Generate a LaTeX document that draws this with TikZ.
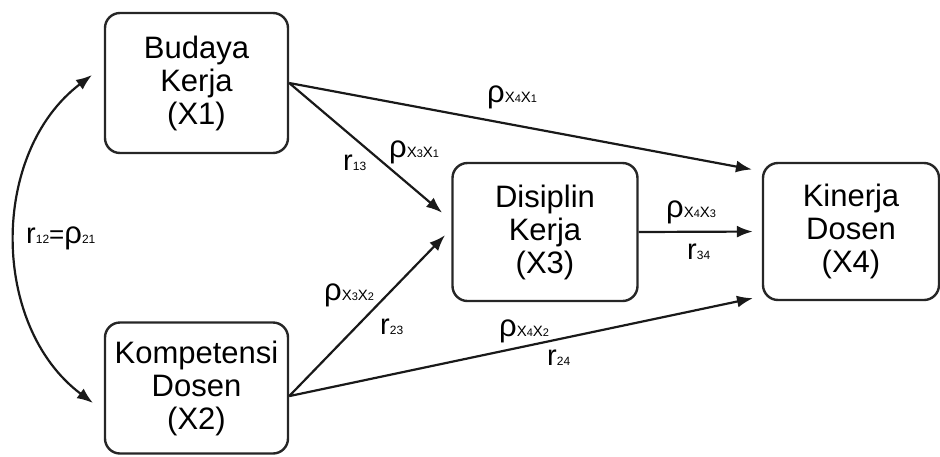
\documentclass[tikz,border=0pt]{standalone}
\usepackage{fontspec}
\setmainfont{Liberation Sans}
\usetikzlibrary{arrows.meta}

% path coefficient rho_{X#1 X#2} and correlation r_{#1}
\newcommand\pth[2]{%
    {\fontsize{31}{31}\selectfont ρ}%
    {\fontsize{15}{15}\selectfont X{\fontsize{11}{11}\selectfont #1}X{\fontsize{11}{11}\selectfont #2}}}
\newcommand\rcor[1]{%
    {\fontsize{29}{29}\selectfont r}{\fontsize{12}{12}\selectfont #1}}
\newcommand\rhosmall[1]{%
    {\fontsize{31}{31}\selectfont ρ}{\fontsize{12}{12}\selectfont #1}}

\tikzset{
    varbox/.style={draw=black!85,line width=2.4pt,rounded corners=15pt,align=center,
        inner sep=0pt,font=\fontsize{31}{33}\selectfont},
    link/.style={draw=black!90,line width=2.2pt,-{Latex[length=16pt,width=12pt]}},
    corlink/.style={draw=black!90,line width=2.2pt,
        {Latex[length=16pt,width=12pt]}-{Latex[length=16pt,width=12pt]}},
    coef/.style={inner sep=0pt,anchor=base west},
}

\begin{document}
\begin{tikzpicture}[x={(1pt,0pt)},y={(0pt,-1pt)}]
    \useasboundingbox (0,0) rectangle (940,456);

    % the four variables
    \node[varbox,minimum width=183pt,minimum height=140pt] (x1) at (196.5,83) {Budaya\\Kerja\\(X1)};
    \node[varbox,minimum width=183pt,minimum height=131pt] (x2) at (196.5,388) {Kompetensi\\Dosen\\(X2)};
    \node[varbox,minimum width=185pt,minimum height=138pt] (x3) at (545,232) {Disiplin\\Kerja\\(X3)};
    \node[varbox,minimum width=176pt,minimum height=137pt] (x4) at (851,231.5) {Kinerja\\Dosen\\(X4)};

    % correlation between X1 and X2
    \coordinate (c1) at (92,75);
    \coordinate (c2) at (93,403);
    \draw[corlink] (c1) to[bend right=53] (c2);

    % paths
    \draw[link,shorten >=10pt] (x1.east) -- (x4.146);
    \draw[link,shorten >=12pt] (x1.east) -- (x3.173);
    \draw[link,shorten >=9pt] (x2.-5) -- (x3.178);
    \draw[link,shorten >=9pt] (x2.-5) -- (x4.-144);
    \draw[link,shorten >=9pt] (x3.east) -- (x4.west);

    % coefficients
    \node[coef] (r12) at (26,243) {\rcor{12}{\fontsize{26}{26}\selectfont =}\rhosmall{21}};
    \node[coef] (p41) at (487,102) {\pth{4}{1}};
    \node[coef] (p31) at (389,157) {\pth{3}{1}};
    \node[coef] (r13) at (343,170) {\rcor{13}};
    \node[coef] (p32) at (324,300) {\pth{3}{2}};
    \node[coef] (r23) at (380,334) {\rcor{23}};
    \node[coef] (p43) at (666,217) {\pth{4}{3}};
    \node[coef] (r34) at (687,259) {\rcor{34}};
    \node[coef] (p42) at (499,336) {\pth{4}{2}};
    \node[coef] (r24) at (547,365) {\rcor{24}};
\end{tikzpicture}
\end{document}
